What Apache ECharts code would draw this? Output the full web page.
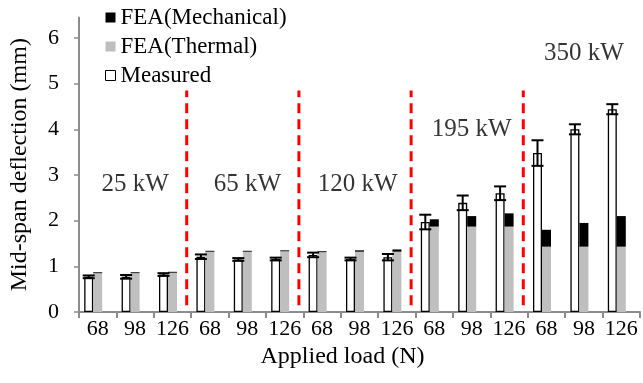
<!DOCTYPE html>
<html>
<head>
<meta charset="utf-8">
<script src="https://cdn.jsdelivr.net/npm/echarts@6/dist/echarts.min.js"></script>
<style>
  html, body { margin: 0; padding: 0; background: #fff; }
  #chart { width: 643px; height: 383px; }
</style>
</head>
<body>
<div id="chart"></div>
<script>
// applied load per bar, five power levels of three loads each
const categories = ['68', '98', '126', '68', '98', '126', '68', '98', '126', '68', '98', '126', '68', '98', '126']
const measured = [0.77, 0.77, 0.82, 1.21, 1.15, 1.16, 1.25, 1.16, 1.20, 1.97, 2.39, 2.60, 3.48, 4.00, 4.44]
const measuredErr = [0.03, 0.04, 0.03, 0.05, 0.03, 0.03, 0.05, 0.03, 0.07, 0.16, 0.16, 0.15, 0.28, 0.11, 0.11]
const feaThermal = [0.85, 0.85, 0.86, 1.32, 1.32, 1.33, 1.31, 1.32, 1.32, 1.87, 1.87, 1.87, 1.43, 1.43, 1.43]
const feaMechanical = [0.02, 0.02, 0.02, 0.02, 0.02, 0.02, 0.02, 0.03, 0.05, 0.16, 0.23, 0.29, 0.37, 0.52, 0.67]
const yTicks = [0, 1, 2, 3, 4, 5, 6]

// group annotations: label, x in category units, y in mm
const groupNames = ['25 kW', '65 kW', '120 kW', '195 kW', '350 kW']
const groupX = [1.5, 4.5, 7.45, 10.5, 13.5]
const groupY = [2.8, 2.8, 2.8, 4.0, 5.67]
// red dividers between power levels (category boundaries)
const dividers = [3, 6, 9, 12]
const dividerSpan = [0.15, 4.85]

const FONT = 'Liberation Serif'
const BAR_W = 9
const chart = echarts.init(document.getElementById('chart'))

chart.setOption({
  animation: false,
  textStyle: { fontFamily: FONT, color: '#000' },
  grid: { left: 78, right: 3, top: 17.4, bottom: 71 },
  legend: {
    orient: 'vertical',
    left: 100,
    top: -2,
    itemGap: 0,
    itemWidth: 10,
    itemHeight: 10,
    icon: 'rect',
    data: [
      'FEA(Mechanical)',
      'FEA(Thermal)',
      { name: 'Measured', itemStyle: { borderWidth: 1 } },
    ],
    textStyle: { fontFamily: FONT, fontSize: 23, color: '#000', lineHeight: 29 },
  },
  xAxis: [
    {
      type: 'category',
      data: categories,
      name: 'Applied load (N)',
      nameLocation: 'middle',
      nameGap: 33,
      nameTextStyle: { fontFamily: FONT, fontSize: 24, color: '#000', padding: [0, 34, 0, 0] },
      axisLine: { lineStyle: { color: '#8c8c8c', width: 2 } },
      axisTick: { show: true, length: 6, lineStyle: { color: '#8c8c8c', width: 2 } },
      axisLabel: { interval: 0, fontFamily: FONT, fontSize: 22, color: '#000', margin: 6 },
    },
    // hidden value axis for dividers and group labels
    { type: 'value', min: 0, max: 15, show: false },
  ],
  yAxis: {
    type: 'value',
    min: 0,
    max: 6.45,
    interval: 1,
    name: 'Mid-span deflection (mm)',
    nameLocation: 'middle',
    nameGap: 47,
    nameTextStyle: { fontFamily: FONT, fontSize: 24, color: '#000' },
    splitLine: { show: false },
    axisLine: { show: true, lineStyle: { color: '#8c8c8c', width: 2 } },
    axisTick: { show: true, length: 5, customValues: yTicks, lineStyle: { color: '#8c8c8c', width: 1.5 } },
    axisLabel: { customValues: yTicks, fontFamily: FONT, fontSize: 22, color: '#000', margin: 20 },
  },
  series: [
    {
      name: 'Measured',
      type: 'bar',
      barWidth: BAR_W,
      barGap: '0%',
      itemStyle: { color: '#fff', borderColor: '#000', borderWidth: 1.3 },
      data: measured,
    },
    {
      name: 'FEA(Thermal)',
      type: 'bar',
      stack: 'fea',
      barWidth: BAR_W,
      barGap: '0%',
      itemStyle: { color: '#bfbfbf' },
      data: feaThermal,
    },
    {
      name: 'FEA(Mechanical)',
      type: 'bar',
      stack: 'fea',
      barWidth: BAR_W,
      barGap: '0%',
      itemStyle: { color: '#000' },
      data: feaMechanical,
    },
    // empty third slot, keeps the pair left of the category centre
    {
      name: 'slot',
      type: 'bar',
      barWidth: BAR_W,
      barGap: '0%',
      data: categories.map(() => null),
    },
    // error bars on the measured values
    {
      type: 'custom',
      z: 5,
      data: measured.map((v, i) => [i, v, measuredErr[i]]),
      renderItem: (params, api) => {
        const i = api.value(0)
        const top = api.coord([i, api.value(1) + api.value(2)])
        const bot = api.coord([i, api.value(1) - api.value(2)])
        const x = top[0] - BAR_W
        const cap = 6
        const st = { stroke: '#000', lineWidth: 2 }
        return {
          type: 'group',
          children: [
            { type: 'line', shape: { x1: x, y1: top[1], x2: x, y2: bot[1] }, style: st },
            { type: 'line', shape: { x1: x - cap, y1: top[1], x2: x + cap, y2: top[1] }, style: st },
            { type: 'line', shape: { x1: x - cap, y1: bot[1], x2: x + cap, y2: bot[1] }, style: st },
          ],
        }
      },
    },
    // red dashed dividers
    ...dividers.map((d) => ({
      type: 'line',
      xAxisIndex: 1,
      symbol: 'none',
      silent: true,
      lineStyle: { color: '#ff0000', width: 3, type: [10, 6] },
      data: [[d - 0.12, dividerSpan[0]], [d - 0.12, dividerSpan[1]]],
    })),
    // power level labels
    {
      type: 'scatter',
      xAxisIndex: 1,
      symbolSize: 0,
      silent: true,
      label: {
        show: true,
        position: 'inside',
        fontFamily: FONT,
        fontSize: 25,
        color: '#000',
        formatter: (p) => p.data[2],
      },
      data: groupNames.map((n, i) => [groupX[i], groupY[i], n]),
    },
  ],
})
</script>
</body>
</html>
